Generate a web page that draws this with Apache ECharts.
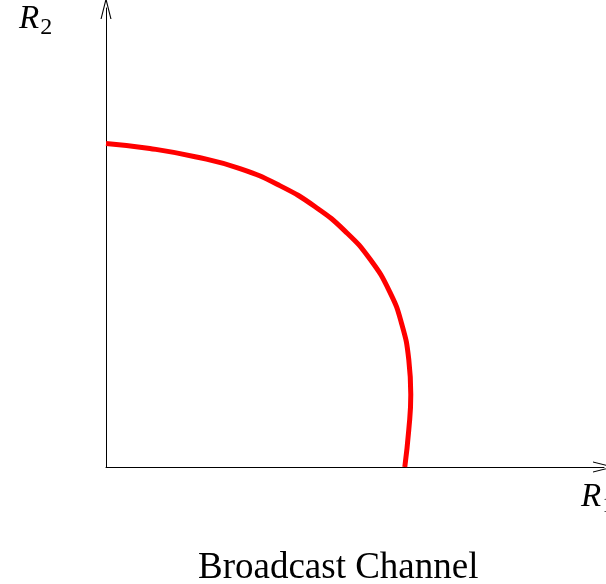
<!DOCTYPE html>
<html>
<head>
<meta charset="utf-8">
<script src="https://cdn.jsdelivr.net/npm/echarts@6/dist/echarts.min.js"></script>
<style>
  html, body { margin: 0; padding: 0; background: #fff; }
  #chart { width: 606px; height: 584px; }
</style>
</head>
<body>
<div id="chart"></div>
<script>
// boundary of the rate region (R1, R2)
var r1Values = [0, 0.88, 1.79, 2.69, 3.49, 4.20, 4.80, 5.30, 5.70, 5.94, 6.08, 6.12, 6.08, 6.00];
var r2Values = [7.05, 6.94, 6.76, 6.50, 6.13, 5.67, 5.14, 4.53, 3.81, 3.11, 2.34, 1.58, 0.81, 0];
var titleText = 'Broadcast Channel';

var points = [];
for (var i = 0; i < r1Values.length; i++) {
    points.push([r1Values[i], r2Values[i]]);
}

// open chevron arrow for the axis ends
var arrowPath = 'path://M0 20 L5 0 L10 20 L9 20 L5 4 L1 20 Z';

var labelRich = {
    r: { fontFamily: 'Liberation Serif', fontStyle: 'italic', fontSize: 33, fill: '#000' },
    s: { fontFamily: 'Liberation Serif', fontSize: 24, fill: '#000', padding: [16, 0, 0, 1] }
};

var chart = echarts.init(document.getElementById('chart'));
var option = {
    backgroundColor: '#fff',
    animation: false,
    title: {
        text: titleText,
        left: 193,
        top: 545,
        textStyle: {
            fontFamily: 'Liberation Serif',
            fontWeight: 'normal',
            fontSize: 37,
            color: '#000'
        }
    },
    grid: { left: 106, right: 2, top: 8, bottom: 117 },
    xAxis: {
        type: 'value',
        min: 0,
        max: 10,
        axisLine: {
            show: true,
            symbol: ['none', arrowPath],
            symbolSize: [11, 22],
            lineStyle: { color: '#000', width: 1 }
        },
        axisTick: { show: false },
        axisLabel: { show: false },
        splitLine: { show: false }
    },
    yAxis: {
        type: 'value',
        min: 0,
        max: 10,
        axisLine: {
            show: true,
            symbol: ['none', arrowPath],
            symbolSize: [11, 22],
            lineStyle: { color: '#000', width: 1 }
        },
        axisTick: { show: false },
        axisLabel: { show: false },
        splitLine: { show: false }
    },
    graphic: [
        {
            type: 'text',
            left: 19,
            top: 3,
            style: { text: '{r|R}{s|2}', rich: labelRich }
        },
        {
            type: 'text',
            left: 581,
            top: 481,
            style: { text: '{r|R}{s|1}', rich: labelRich }
        }
    ],
    series: [
        {
            type: 'line',
            data: points,
            smooth: true,
            showSymbol: false,
            lineStyle: { color: '#ff0000', width: 5 }
        }
    ]
};
chart.setOption(option);
</script>
</body>
</html>
